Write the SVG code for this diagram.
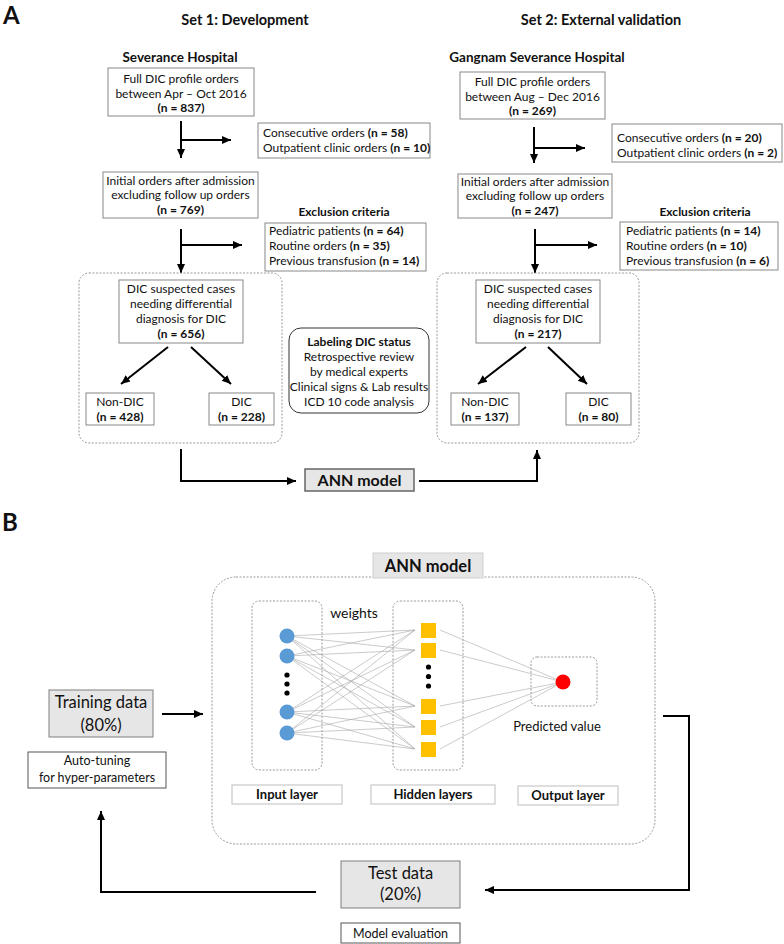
<svg xmlns="http://www.w3.org/2000/svg" width="784" height="944" viewBox="0 0 784 944">
<defs>
<style>
.t{font-family:Lato,"Liberation Sans",sans-serif;font-size:12px;fill:#111}
.c{text-anchor:middle}
.b{font-weight:bold}
.box{fill:#fff;stroke:#888;stroke-width:1}
.lbl{fill:#fff;stroke:#c8c8c8;stroke-width:1.2}
.gray{fill:#e7e6e6;stroke:#7f7f7f;stroke-width:1}
.grp{fill:none;stroke:#9a9a9a;stroke-width:1;stroke-dasharray:2 1.5}
.arr{fill:none;stroke:#000;stroke-width:2;marker-end:url(#ah)}
.nn{stroke:#a8a8a8;stroke-width:0.6}
</style>
<marker id="ah" markerUnits="userSpaceOnUse" markerWidth="10" markerHeight="10" viewBox="0 0 10 10" refX="9" refY="5" orient="auto">
<path d="M0,1 L9,5 L0,9 z" fill="#000"/>
</marker>
</defs>
<rect width="784" height="944" fill="#fff"/>

<!-- Panel A headings -->
<text class="t b" x="3" y="24" style="font-size:24px">A</text>
<text class="t b c" x="245" y="25" style="font-size:14.5px">Set 1: Development</text>
<text class="t b c" x="601" y="25" style="font-size:14.5px">Set 2: External validation</text>
<text class="t b c" x="180" y="62" style="font-size:13.5px">Severance Hospital</text>
<text class="t b c" x="537" y="62" style="font-size:13.5px">Gangnam Severance Hospital</text>

<!-- Connectors -->
<g id="connectors">
<path class="arr" d="M181,121 V158"/>
<path class="arr" d="M181,140 H231"/>
<path class="arr" d="M181,229 V273"/>
<path class="arr" d="M181,245 H242"/>
<path class="arr" d="M168,347 L121,384"/>
<path class="arr" d="M191,347 L231,384"/>
<path class="arr" d="M181,449 V481 H296"/>
<path class="arr" d="M419,481 H537 V450"/>
<path class="arr" d="M534,127 V163"/>
<path class="arr" d="M534,148 H585"/>
<path class="arr" d="M535,229 V273"/>
<path class="arr" d="M535,245 H597"/>
<path class="arr" d="M526,347 L478,384"/>
<path class="arr" d="M548,347 L587,384"/>
<path class="arr" d="M162,714 H203"/>
<path class="arr" d="M316,892 H101 V811"/>
<path class="arr" d="M663,716 H689 V890 H485"/>
</g>

<!-- Set 1 nodes -->
<g id="l-full">
<rect class="box" x="108" y="68" width="146" height="48"/>
<text class="t c" x="181" y="83">Full DIC profile orders</text>
<text class="t c" x="181" y="97.5">between Apr – Oct 2016</text>
<text class="t c b" x="181" y="112">(n = 837)</text>
</g>
<g id="l-excl1">
<rect class="box" x="258" y="123" width="172" height="35"/>
<text class="t" x="263" y="137">Consecutive orders <tspan class="b">(n = 58)</tspan></text>
<text class="t" x="263" y="152">Outpatient clinic orders <tspan class="b">(n = 10)</tspan></text>
</g>
<g id="l-initial">
<rect class="box" x="103" y="172" width="155" height="46"/>
<text class="t c" x="180.5" y="184.5">Initial orders after admission</text>
<text class="t c" x="180.5" y="199">excluding follow up orders</text>
<text class="t c b" x="180.5" y="213.5">(n = 769)</text>
</g>
<g id="l-excl2">
<text class="t c b" x="344" y="216">Exclusion criteria</text>
<rect class="box" x="265" y="223" width="161" height="48"/>
<text class="t" x="269" y="235">Pediatric patients <tspan class="b">(n = 64)</tspan></text>
<text class="t" x="269" y="250">Routine orders <tspan class="b">(n = 35)</tspan></text>
<text class="t" x="269" y="264.5">Previous transfusion <tspan class="b">(n = 14)</tspan></text>
</g>
<g id="l-group">
<rect class="grp" x="79" y="273" width="203" height="170" rx="10"/>
</g>
<g id="l-suspected">
<rect class="box" x="119" y="280" width="124" height="63"/>
<text class="t c" x="181" y="293">DIC suspected cases</text>
<text class="t c" x="181" y="308">needing differential</text>
<text class="t c" x="181" y="323">diagnosis for DIC</text>
<text class="t c b" x="181" y="338">(n = 656)</text>
</g>
<g id="l-nondic">
<rect class="box" x="86" y="393" width="68" height="32"/>
<text class="t c" x="120" y="406">Non-DIC</text>
<text class="t c b" x="120" y="420.5">(n = 428)</text>
</g>
<g id="l-dic">
<rect class="box" x="209" y="393" width="65" height="32"/>
<text class="t c" x="241.5" y="406">DIC</text>
<text class="t c b" x="241.5" y="420.5">(n = 228)</text>
</g>

<!-- Labeling -->
<g id="labeling">
<rect x="289" y="328" width="140" height="85" rx="12" fill="#fff" stroke="#333" stroke-width="1"/>
<text class="t c b" x="359" y="346">Labeling DIC status</text>
<text class="t c" x="359" y="361">Retrospective review</text>
<text class="t c" x="359" y="376">by medical experts</text>
<text class="t c" x="359" y="391">Clinical signs &amp; Lab results</text>
<text class="t c" x="359" y="406">ICD 10 code analysis</text>
</g>
<g id="ann-a">
<rect x="305" y="469" width="109" height="22" fill="#e6e6e6" stroke="#666" stroke-width="1.5"/>
<text class="t c b" x="359.5" y="486" style="font-size:16px">ANN model</text>
</g>

<!-- Set 2 nodes -->
<g id="r-full">
<rect class="box" x="460" y="72" width="145" height="47"/>
<text class="t c" x="532.5" y="86">Full DIC profile orders</text>
<text class="t c" x="532.5" y="100.5">between Aug – Dec 2016</text>
<text class="t c b" x="532.5" y="115">(n = 269)</text>
</g>
<g id="r-excl1">
<rect class="box" x="612" y="124" width="170" height="38"/>
<text class="t" x="617" y="142">Consecutive orders <tspan class="b">(n = 20)</tspan></text>
<text class="t" x="617" y="156.5">Outpatient clinic orders <tspan class="b">(n = 2)</tspan></text>
</g>
<g id="r-initial">
<rect class="box" x="458" y="174" width="154" height="44"/>
<text class="t c" x="535" y="185.5">Initial orders after admission</text>
<text class="t c" x="535" y="200">excluding follow up orders</text>
<text class="t c b" x="535" y="214.5">(n = 247)</text>
</g>
<g id="r-excl2">
<text class="t c b" x="705" y="216">Exclusion criteria</text>
<rect class="box" x="620" y="222" width="158" height="48"/>
<text class="t" x="626" y="235">Pediatric patients <tspan class="b">(n = 14)</tspan></text>
<text class="t" x="626" y="250">Routine orders <tspan class="b">(n = 10)</tspan></text>
<text class="t" x="626" y="264.5">Previous transfusion <tspan class="b">(n = 6)</tspan></text>
</g>
<g id="r-group">
<rect class="grp" x="437" y="273" width="202" height="170" rx="10"/>
</g>
<g id="r-suspected">
<rect class="box" x="476" y="280" width="124" height="63"/>
<text class="t c" x="538" y="293">DIC suspected cases</text>
<text class="t c" x="538" y="308">needing differential</text>
<text class="t c" x="538" y="323">diagnosis for DIC</text>
<text class="t c b" x="538" y="338">(n = 217)</text>
</g>
<g id="r-nondic">
<rect class="box" x="451" y="393" width="68" height="32"/>
<text class="t c" x="485" y="406">Non-DIC</text>
<text class="t c b" x="485" y="420.5">(n = 137)</text>
</g>
<g id="r-dic">
<rect class="box" x="566" y="393" width="65" height="32"/>
<text class="t c" x="598.5" y="406">DIC</text>
<text class="t c b" x="598.5" y="420.5">(n = 80)</text>
</g>

<!-- Panel B -->
<text class="t b" x="2" y="531" style="font-size:24px">B</text>

<g id="ann-frame">
<rect class="grp" x="212" y="577" width="443" height="267" rx="24"/>
<rect x="373" y="553" width="110" height="25" fill="#e7e6e6" stroke="#d0d0d0" stroke-width="1"/>
<text class="t c b" x="428" y="571.5" style="font-size:16.5px">ANN model</text>
</g>

<g id="input-layer">
<rect class="grp" x="252" y="601" width="70" height="169" rx="7"/>
</g>
<g id="hidden-layer">
<rect class="grp" x="393" y="601" width="70" height="169" rx="7"/>
</g>
<g id="output-layer">
<rect class="grp" x="531" y="657" width="66" height="49" rx="6"/>
</g>

<g id="weights">
<path class="nn" d="M287,636 L415,630 M287,636 L415,650 M287,636 L415,706 M287,636 L415,727 M287,636 L415,749
M287,656 L415,630 M287,656 L415,650 M287,656 L415,706 M287,656 L415,727 M287,656 L415,749
M287,712 L415,630 M287,712 L415,650 M287,712 L415,706 M287,712 L415,727 M287,712 L415,749
M287,733 L415,630 M287,733 L415,650 M287,733 L415,706 M287,733 L415,727 M287,733 L415,749
M440,630 L563,682 M440,650 L563,682 M440,706 L563,682 M440,727 L563,682 M440,749 L563,682"/>
</g>

<g id="input-nodes" fill="#5b9bd5">
<circle cx="287" cy="636" r="7.5"/>
<circle cx="287" cy="656" r="7.5"/>
<circle cx="287" cy="712" r="7.5"/>
<circle cx="287" cy="733" r="7.5"/>
<circle cx="287" cy="675" r="2.6" fill="#000"/>
<circle cx="287" cy="684" r="2.6" fill="#000"/>
<circle cx="287" cy="693" r="2.6" fill="#000"/>
</g>
<g id="hidden-nodes" fill="#ffc000">
<rect x="421" y="623" width="15" height="15"/>
<rect x="421" y="643" width="15" height="15"/>
<rect x="421" y="699" width="15" height="15"/>
<rect x="421" y="720" width="15" height="15"/>
<rect x="421" y="742" width="15" height="15"/>
<circle cx="428.5" cy="667" r="2.6" fill="#000"/>
<circle cx="428.5" cy="676.5" r="2.6" fill="#000"/>
<circle cx="428.5" cy="686" r="2.6" fill="#000"/>
</g>
<g id="output-node">
<circle cx="563" cy="682" r="7.5" fill="#ff0000"/>
</g>

<text class="t c" x="354" y="618" style="font-size:14px">weights</text>
<text class="t c" x="557" y="731" style="font-size:13px">Predicted value</text>

<g id="lbl-input">
<rect class="lbl" x="232" y="785" width="110" height="19"/>
<text class="t c b" x="287" y="799" style="font-size:13px">Input layer</text>
</g>
<g id="lbl-hidden">
<rect class="lbl" x="371" y="785" width="124" height="19"/>
<text class="t c b" x="433" y="799" style="font-size:13px">Hidden layers</text>
</g>
<g id="lbl-output">
<rect class="lbl" x="518" y="786" width="100" height="19"/>
<text class="t c b" x="568" y="800" style="font-size:13px">Output layer</text>
</g>

<g id="training">
<rect class="gray" x="49" y="690" width="104" height="47"/>
<text class="t c" x="101" y="708" style="font-size:16.5px">Training data</text>
<text class="t c" x="101" y="731" style="font-size:16.5px">(80%)</text>
</g>
<g id="autotuning">
<rect x="28" y="752" width="138" height="36" fill="#fff" stroke="#555" stroke-width="1"/>
<text class="t c" x="97" y="765" style="font-size:12.5px">Auto-tuning</text>
<text class="t c" x="97" y="782" style="font-size:12.5px">for hyper-parameters</text>
</g>
<g id="test">
<rect class="gray" x="341" y="861" width="119" height="47"/>
<text class="t c" x="400.5" y="879" style="font-size:16.5px">Test data</text>
<text class="t c" x="400.5" y="900" style="font-size:16.5px">(20%)</text>
</g>
<g id="evaluation">
<rect x="341" y="923" width="119" height="20" fill="#fff" stroke="#555" stroke-width="1"/>
<text class="t c" x="400.5" y="937.5" style="font-size:12.5px">Model evaluation</text>
</g>
</svg>
